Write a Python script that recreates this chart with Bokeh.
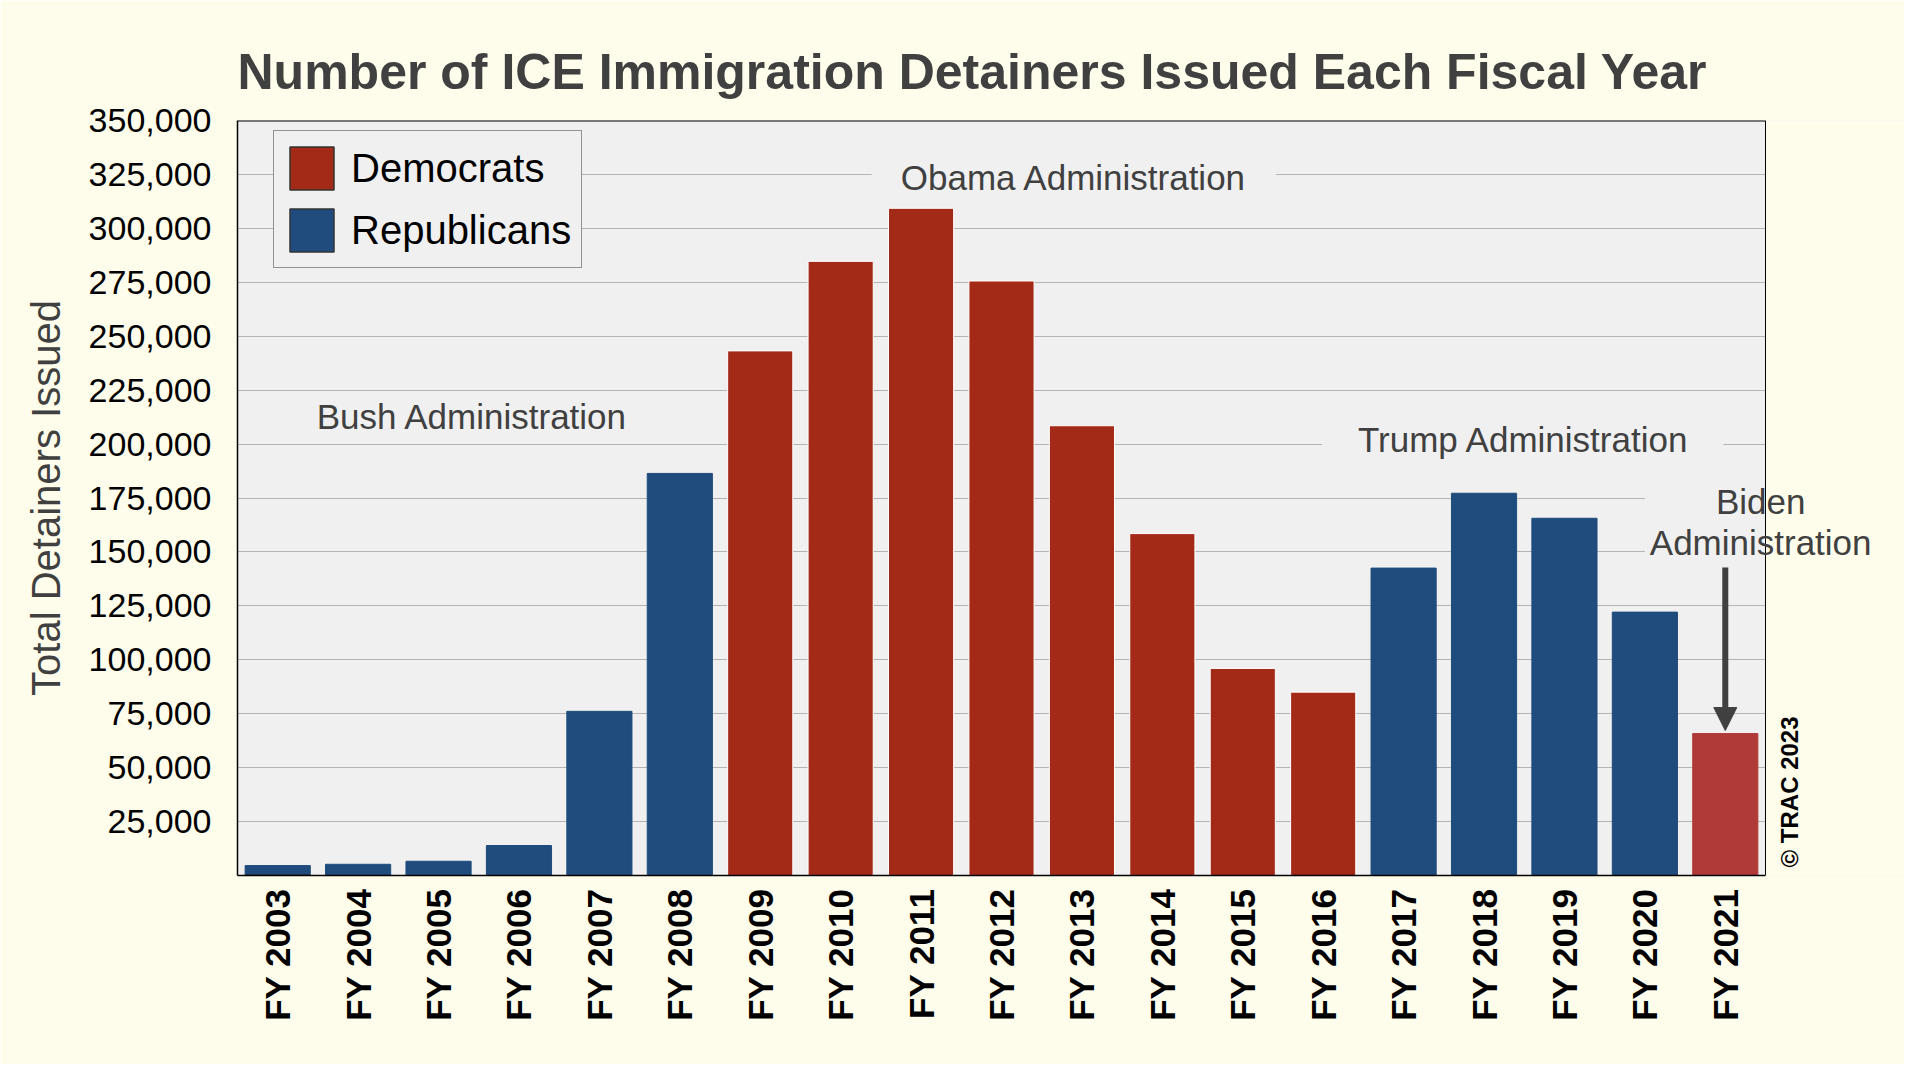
from math import pi
from bokeh.plotting import figure
from bokeh.models import (ColumnDataSource, Range1d, FixedTicker, CustomJSTickFormatter,
                          NumeralTickFormatter, Label, Arrow, NormalHead, Legend,
                          LegendItem, Span)
from bokeh.embed import file_html
from bokeh.resources import INLINE

# ---------------- data ----------------
years = ["FY 2003", "FY 2004", "FY 2005", "FY 2006", "FY 2007", "FY 2008", "FY 2009",
         "FY 2010", "FY 2011", "FY 2012", "FY 2013", "FY 2014", "FY 2015", "FY 2016",
         "FY 2017", "FY 2018", "FY 2019", "FY 2020", "FY 2021"]
detainers = [4600, 5200, 6600, 13900, 76100, 186400, 243200, 284700, 309300, 275600,
             208500, 158500, 96000, 85000, 142500, 177200, 165600, 122100, 65800]
party = ["R", "R", "R", "R", "R", "R", "D", "D", "D", "D", "D", "D", "D", "D",
         "R", "R", "R", "R", "B"]
y_ticks = [25000, 50000, 75000, 100000, 125000, 150000, 175000, 200000, 225000,
           250000, 275000, 300000, 325000, 350000]
legend_labels = ["Democrats", "Republicans"]
admin_labels = ["Bush Administration", "Obama Administration",
                "Trump Administration", "Biden\nAdministration"]

# ---------------- styles / layout ----------------
RED = "#A32A17"
BLUE = "#1F4C7C"
RED_LIGHT = "#B03A37"
TEXT_GRAY = "#404040"
CREAM = "#FEFDEB"
PLOT_BG = "#F0F0F0"
FONT = "Liberation Sans"
fill_map = {"D": RED, "R": BLUE, "B": RED_LIGHT}
line_map = {"D": "white", "R": BLUE, "B": RED_LIGHT}

W, H = 1904, 1064
LEFT, TOP, BOTTOM = 237, 120, 1064 - 875
N = len(years)
UNIT = 1528 / N                      # px per category
X_END = (W - LEFT) / UNIT            # frame extends to the right edge
Y_MAX = 350000

x_pos = [i + 0.5 for i in range(N)]
src = ColumnDataSource(dict(
    x=x_pos, value=detainers,
    fill=[fill_map[k] for k in party],
    line=[line_map[k] for k in party],
))

p = figure(width=W, height=H,
           x_range=Range1d(0, X_END), y_range=Range1d(0, Y_MAX),
           output_backend="svg", toolbar_location=None,
           min_border_left=LEFT, min_border_right=0,
           min_border_top=TOP, min_border_bottom=BOTTOM,
           background_fill_color=PLOT_BG, border_fill_color=CREAM,
           outline_line_color=None)

p.vbar(x="x", top="value", width=0.81, fill_color="fill", line_color="line",
       line_width=1, source=src)

# area right of the last category looks like the page background
p.quad(left=[N], right=[X_END + 1], bottom=[0], top=[Y_MAX],
       fill_color=CREAM, line_color=None)
# gap in gridlines behind the Biden label
p.quad(left=[N - 1.5], right=[N], bottom=[143700], top=[181300],
       fill_color=PLOT_BG, line_color=None)
# top and right border of the chart area
p.segment(x0=[0], y0=[Y_MAX], x1=[N], y1=[Y_MAX], line_color="black", line_width=2)
p.add_layout(Span(location=N, dimension="height", line_color="black", line_width=1))

# title
p.title.text = "Number of ICE Immigration Detainers Issued Each Fiscal Year"
p.title.text_font = FONT
p.title.text_font_size = "50px"
p.title.text_font_style = "bold"
p.title.text_color = TEXT_GRAY
p.title.align = "left"
p.title.standoff = 42

# axes
p.yaxis.ticker = FixedTicker(ticks=y_ticks)
p.yaxis.formatter = NumeralTickFormatter(format="0,0")
p.yaxis.major_label_text_font = FONT
p.yaxis.major_label_text_font_size = "34px"
p.yaxis.major_label_text_color = "black"
p.yaxis.major_label_standoff = 26
p.yaxis.major_tick_out = 0
p.yaxis.major_tick_in = 0
p.yaxis.minor_tick_out = 0
p.yaxis.minor_tick_in = 0
p.yaxis.axis_line_color = "black"
p.yaxis.axis_line_width = 1.5
p.yaxis.axis_label = "Total Detainers Issued"
p.yaxis.axis_label_text_font = FONT
p.yaxis.axis_label_text_font_size = "40px"
p.yaxis.axis_label_text_font_style = "normal"
p.yaxis.axis_label_text_color = TEXT_GRAY
p.yaxis.axis_label_standoff = 18

p.xaxis.ticker = FixedTicker(ticks=x_pos)
p.xaxis.formatter = CustomJSTickFormatter(args=dict(labels=years),
                                          code="return labels[Math.round(tick - 0.5)] || ''")
p.xaxis.bounds = (0, N)
p.xaxis.major_label_orientation = pi / 2
p.xaxis.major_label_text_font = FONT
p.xaxis.major_label_text_font_size = "35px"
p.xaxis.major_label_text_font_style = "bold"
p.xaxis.major_label_text_color = "black"
p.xaxis.major_label_standoff = 13
p.xaxis.major_tick_out = 0
p.xaxis.major_tick_in = 0
p.xaxis.minor_tick_out = 0
p.xaxis.minor_tick_in = 0
p.xaxis.axis_line_color = "black"
p.xaxis.axis_line_width = 1.5

p.xgrid.visible = False
p.ygrid.ticker = FixedTicker(ticks=y_ticks)
p.ygrid.grid_line_color = "#B4B4B4"
p.ygrid.grid_line_width = 1.2

# legend (swatch renderers placed outside the visible range)
dem_r = p.vbar(x=[0.5], bottom=[-20000], top=[-10000], width=0.8,
               fill_color=RED, line_color="#333333", line_width=1.5)
rep_r = p.vbar(x=[0.5], bottom=[-20000], top=[-10000], width=0.8,
               fill_color=BLUE, line_color="#333333", line_width=1.5)
legend = Legend(items=[LegendItem(label=legend_labels[0], renderers=[dem_r]),
                       LegendItem(label=legend_labels[1], renderers=[rep_r])],
                location=(36, 607), orientation="vertical",
                glyph_width=55, glyph_height=54, spacing=8, padding=10, margin=0,
                label_standoff=12, label_text_font=FONT, label_text_font_size="40px",
                label_text_color="black", label_height=54,
                background_fill_color=PLOT_BG, background_fill_alpha=1,
                border_line_color="#333333", border_line_width=1.5)
p.add_layout(legend, "center")

# administration annotations
label_style = dict(text_font=FONT, text_font_size="35px", text_color=TEXT_GRAY,
                   text_align="center", text_baseline="middle")
p.add_layout(Label(x=2.92, y=212800, text=admin_labels[0], **label_style))
p.add_layout(Label(x=10.40, y=323600, text=admin_labels[1],
                   background_fill_color=PLOT_BG,
                   padding=dict(left=29, right=29, top=2, bottom=2), **label_style))
p.add_layout(Label(x=15.98, y=201900, text=admin_labels[2],
                   background_fill_color=PLOT_BG,
                   padding=dict(left=36, right=34, top=2, bottom=2), **label_style))
p.add_layout(Label(x=18.94, y=163900, text=admin_labels[3], text_line_height=1.04,
                   **label_style))

# arrow to FY 2021
p.add_layout(Arrow(end=NormalHead(size=23, fill_color=TEXT_GRAY, line_color=TEXT_GRAY),
                   x_start=N - 0.5, y_start=142800, x_end=N - 0.5, y_end=67200,
                   line_width=6, line_color=TEXT_GRAY))

# copyright
p.add_layout(Label(x=19.30, y=3700, text="© TRAC 2023", angle=pi / 2,
                   text_font=FONT, text_font_size="24px", text_font_style="bold",
                   text_color="black", text_align="left", text_baseline="middle"))

open("out.html", "w").write(file_html(p, INLINE))
